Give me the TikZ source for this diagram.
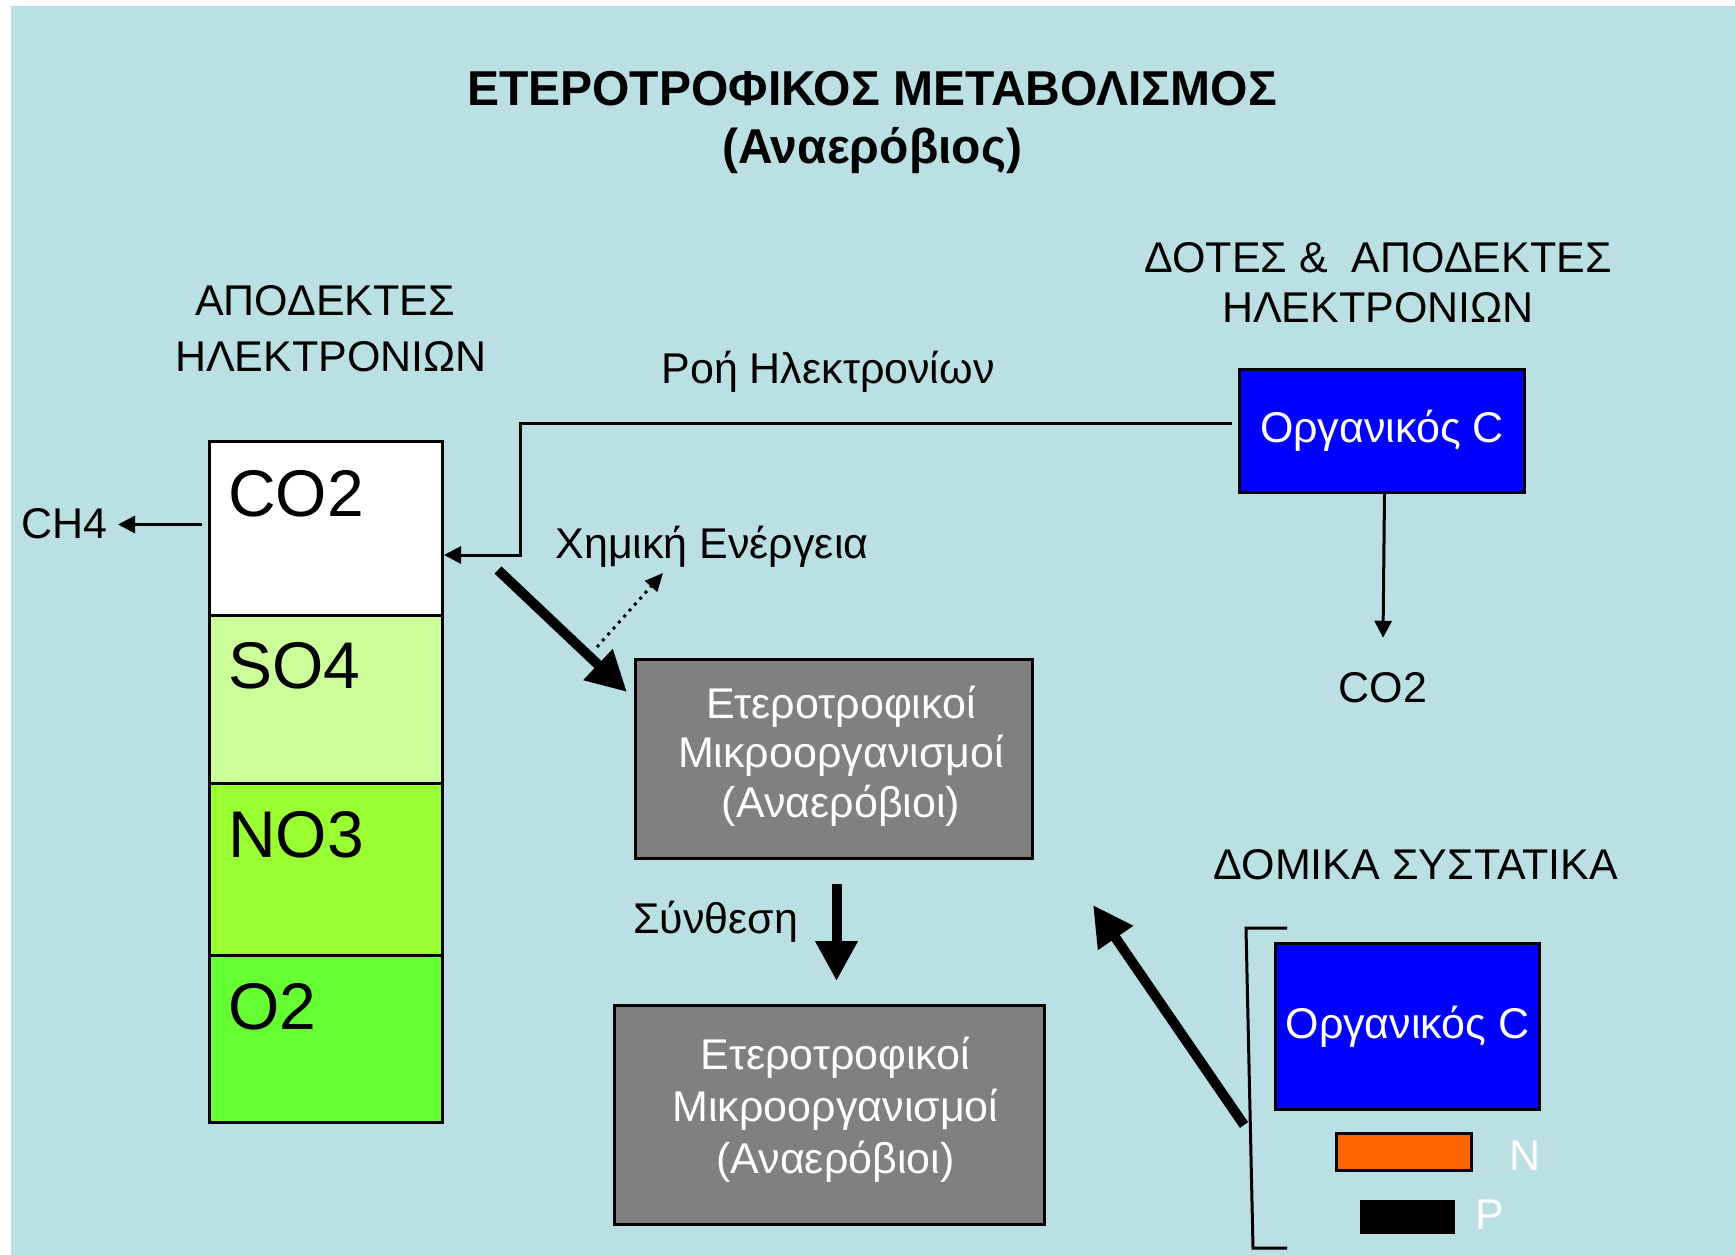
\documentclass[tikz,border=0pt]{standalone}
\usepackage{fontspec}
\setmainfont{Liberation Sans}
\newfontfamily\headfont{Liberation Sans}[FakeStretch=0.98]
\usetikzlibrary{arrows.meta}
\definecolor{bgblue}{RGB}{186,224,227}
\definecolor{boxblue}{RGB}{0,0,255}
\definecolor{boxgray}{RGB}{128,128,128}
\definecolor{so4green}{RGB}{204,255,153}
\definecolor{no3green}{RGB}{153,255,51}
\definecolor{o2green}{RGB}{102,255,51}
\definecolor{norange}{RGB}{255,102,0}
\tikzset{
  lbl/.style={inner sep=0pt, font=\fontsize{43}{50}\selectfont},
  biglbl/.style={inner sep=0pt, font=\fontsize{66}{70}\selectfont},
  titlelbl/.style={inner sep=0pt, font=\headfont\bfseries\fontsize{49}{57}\selectfont},
  framed/.style={draw=black, line width=3pt, inner sep=0pt, anchor=north west},
  microbox/.style={framed, fill=boxgray},
  microtext/.style={inner sep=0pt, text=white, align=center},
  carbonbox/.style={framed, fill=boxblue, text=white,
    font=\fontsize{43}{50}\selectfont},
  thinarr/.style={line width=3pt, -{Triangle[length=17pt,width=17pt]}},
  bigarr/.style={line width=10pt, -{Triangle[length=40pt,width=40pt]}},
  dotarr/.style={line width=3pt, dash pattern=on 3pt off 5pt,
    -{Triangle[length=18pt,width=16pt]}},
}
\begin{document}
\begin{tikzpicture}[x=1pt,y=-1pt]
\useasboundingbox (0,0) rectangle (1735,1255);
\fill[bgblue] (11,6) rectangle (1735,1255);

% title
\node[titlelbl, anchor=base] (title1) at (872,106) {ΕΤΕΡΟΤΡΟΦΙΚΟΣ ΜΕΤΑΒΟΛΙΣΜΟΣ};
\node[titlelbl, anchor=base] (title2) at (872,163) {(Αναερόβιος)};

% headings
\node[lbl, anchor=base] (acc1) at (325,315) {ΑΠΟΔΕΚΤΕΣ};
\node[lbl, anchor=base] (acc2) at (331,371) {ΗΛΕΚΤΡΟΝΙΩΝ};
\node[lbl, anchor=base] (don1) at (1378,272) {ΔΟΤΕΣ \& \ ΑΠΟΔΕΚΤΕΣ};
\node[lbl, anchor=base] (don2) at (1378,322) {ΗΛΕΚΤΡΟΝΙΩΝ};
\node[lbl, anchor=base] (flow) at (828,383) {Ροή Ηλεκτρονίων};
\node[lbl, anchor=base] (struct) at (1416,879) {ΔΟΜΙΚΑ ΣΥΣΤΑΤΙΚΑ};

% electron acceptor column
\node[framed, fill=white, minimum width=233pt, minimum height=174pt] (cco2) at (208,440) {};
\node[framed, fill=so4green, minimum width=233pt, minimum height=168pt] (cso4) at (208,614) {};
\node[framed, fill=no3green, minimum width=233pt, minimum height=172pt] (cno3) at (208,782) {};
\node[framed, fill=o2green, minimum width=233pt, minimum height=167pt] (co2) at (208,954) {};
\node[biglbl, anchor=base west] (tco2) at (228,516) {CO2};
\node[biglbl, anchor=base west] (tso4) at (228,688) {SO4};
\node[biglbl, anchor=base west] (tno3) at (228,857) {NO3};
\node[biglbl, anchor=base west] (to2) at (228,1029) {O2};

\node[lbl, anchor=base east] (ch4) at (108,538) {CH4};

% organic carbon (donor)
\node[carbonbox, minimum width=285pt, minimum height=123pt] (org1) at (1238,368) {Οργανικός C};
\node[lbl, anchor=base] (co2out) at (1383,702) {CO2};

% microorganisms
\node[microbox, minimum width=397pt, minimum height=199pt] (gm1) at (634,658) {};
\node[microtext, font=\fontsize{43}{49.5}\selectfont] (gm1t) at ([shift={(7pt,3pt)}]gm1.center)
  {Ετεροτροφικοί\\Μικροοργανισμοί\\(Αναερόβιοι)};
\node[microbox, minimum width=430pt, minimum height=219pt] (gm2) at (613,1004) {};
\node[microtext, font=\fontsize{43}{52}\selectfont] (gm2t) at ([shift={(6pt,5pt)}]gm2.center)
  {Ετεροτροφικοί\\Μικροοργανισμοί\\(Αναερόβιοι)};

\node[lbl, anchor=base] (chem) at (712,558) {Χημική Ενέργεια};
\node[lbl, anchor=base west] (synth) at (633,933) {Σύνθεση};

% cell constituents
\node[carbonbox, minimum width=264pt, minimum height=166pt] (org2) at (1274,942) {Οργανικός C};
\node[framed, fill=norange, minimum width=135pt, minimum height=37pt] (nbar) at (1335,1132) {};
\node[framed, fill=black, minimum width=92pt, minimum height=31pt] (pbar) at (1360,1200) {};
\node[lbl, text=white, anchor=base west] (nlbl) at (1509,1170) {N};
\node[lbl, text=white, anchor=base west] (plbl) at (1475,1229) {P};
\draw[line width=3pt] (1287,928) -- (1246,928) -- (1253,1248) -- (1287,1248);

% connectors
\coordinate (ch4from) at ([shift={(-6pt,4pt)}]cco2.west);
\draw[thinarr] (ch4from) -- ([xshift=10pt]ch4from -| ch4.east);
\coordinate (bend) at (520,555);
\draw[thinarr] ([shift={(-6pt,7.5pt)}]org1.west) -| (bend) -- (bend -| cco2.east);
\draw[thinarr] ([xshift=2.5pt]org1.south) -- ([yshift=34pt]co2out.north);

\coordinate (feedA) at (498,570);
\coordinate (feedB) at (627,692);
\draw[bigarr] (feedA) -- (feedB);
\coordinate (energyA) at (597,647);
\coordinate (energyB) at (663,573);
\draw[dotarr] (energyA) -- (energyB);

\draw[bigarr, shorten <=24pt, shorten >=23pt] ([xshift=2.5pt]gm1.south) -- ([xshift=2.5pt]gm1.south |- gm2.north);

\coordinate (buildA) at (1244,1125);
\coordinate (buildB) at (1093,905);
\draw[bigarr] (buildA) -- (buildB);
\end{tikzpicture}
\end{document}
